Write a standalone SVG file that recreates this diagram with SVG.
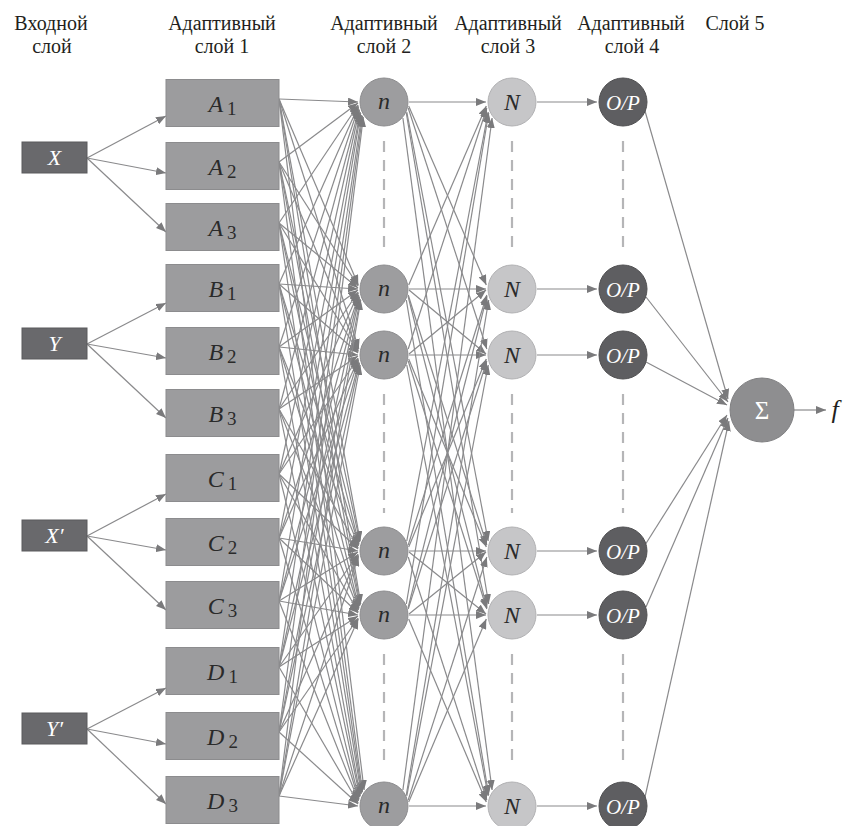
<svg xmlns="http://www.w3.org/2000/svg" width="851" height="826" viewBox="0 0 851 826" font-family="'Liberation Serif', 'DejaVu Serif', serif">
  <defs>
    <marker id="arr" markerUnits="userSpaceOnUse" markerWidth="10" markerHeight="8" viewBox="0 0 10 8" refX="10" refY="4" orient="auto">
      <path d="M0,0 L10,4 L0,8 z" fill="#7a7a7c"/>
    </marker>
    <style>
      text { font-family: 'Liberation Serif', 'DejaVu Serif', serif; }
      .hdr { font-size: 20px; fill: #231f20; text-anchor: middle; }
      .lbl { font-size: 24px; font-style: italic; text-anchor: middle; }
      .sub { font-style: normal; font-size: 19px; }
      .inp rect { fill: #69696c; stroke: #5a5a5c; stroke-width: 1; }
      .inp text { fill: #ffffff; font-size: 22px; }
      .mf rect { fill: #9c9c9e; stroke: #8c8c8e; stroke-width: 1; }
      .mf text { fill: #2a2a2a; }
      .rule circle { fill: #9d9d9f; stroke: #8d8d8f; stroke-width: 1; }
      .rule text { fill: #2a2a2a; }
      .norm circle { fill: #c6c6c8; stroke: #b2b2b4; stroke-width: 1; }
      .norm text { fill: #2a2a2a; }
      .out circle { fill: #5e5e61; stroke: #505052; stroke-width: 1; }
      .out text { fill: #ffffff; font-size: 21px; }
      .sum circle { fill: #8e8e90; stroke: #808082; stroke-width: 1; }
      .sum text { fill: #ffffff; font-style: normal; font-size: 25px; }
      #connectors line { stroke: #8a8a8c; stroke-width: 1.2; marker-end: url(#arr); }
      #dots line { stroke: #b5b5b7; stroke-width: 2.2; stroke-dasharray: 11 8; }
    </style>
  </defs>

  <rect x="0" y="0" width="851" height="826" fill="#ffffff"/>

  <!-- column headers -->
  <g id="headers">
    <text class="hdr" x="51" y="30">Входной</text>
    <text class="hdr" x="52" y="53">слой</text>
    <text class="hdr" x="222" y="30">Адаптивный</text>
    <text class="hdr" x="222" y="53">слой 1</text>
    <text class="hdr" x="384" y="30">Адаптивный</text>
    <text class="hdr" x="384" y="53">слой 2</text>
    <text class="hdr" x="508" y="30">Адаптивный</text>
    <text class="hdr" x="508" y="53">слой 3</text>
    <text class="hdr" x="631" y="30">Адаптивный</text>
    <text class="hdr" x="632" y="53">слой 4</text>
    <text class="hdr" x="735" y="30">Слой 5</text>
  </g>

  <!-- omitted-node markers (dashed) -->
  <g id="dots">
    <line x1="384" y1="141" x2="384" y2="252"/>
    <line x1="512" y1="141" x2="512" y2="252"/>
    <line x1="623" y1="141" x2="623" y2="252"/>
    <line x1="384" y1="394" x2="384" y2="513"/>
    <line x1="512" y1="394" x2="512" y2="513"/>
    <line x1="623" y1="394" x2="623" y2="513"/>
    <line x1="384" y1="654" x2="384" y2="767"/>
    <line x1="512" y1="654" x2="512" y2="767"/>
    <line x1="623" y1="654" x2="623" y2="767"/>
  </g>

  <g id="connectors">
    <!-- inputs to membership boxes -->
    <line x1="87" y1="158" x2="166" y2="116"/>
    <line x1="87" y1="158" x2="166" y2="173"/>
    <line x1="87" y1="158" x2="166" y2="232"/>
    <line x1="87" y1="344" x2="166" y2="303"/>
    <line x1="87" y1="344" x2="166" y2="358"/>
    <line x1="87" y1="344" x2="166" y2="418"/>
    <line x1="87" y1="536" x2="166" y2="494"/>
    <line x1="87" y1="536" x2="166" y2="550"/>
    <line x1="87" y1="536" x2="166" y2="610"/>
    <line x1="87" y1="729" x2="166" y2="688"/>
    <line x1="87" y1="729" x2="166" y2="744"/>
    <line x1="87" y1="729" x2="166" y2="804"/>

    <!-- layer 1 to layer 2 -->
    <line x1="279" y1="99" x2="358" y2="102"/>
    <line x1="279" y1="99" x2="358.3" y2="285"/>
    <line x1="279" y1="99" x2="358.8" y2="349"/>
    <line x1="279" y1="99" x2="360.2" y2="541"/>
    <line x1="279" y1="99" x2="360.7" y2="604"/>
    <line x1="279" y1="99" x2="364.1" y2="790"/>

    <line x1="279" y1="162" x2="358" y2="103"/>
    <line x1="279" y1="162" x2="358.2" y2="286"/>
    <line x1="279" y1="162" x2="358.3" y2="351"/>
    <line x1="279" y1="162" x2="359.8" y2="542"/>
    <line x1="279" y1="162" x2="360.2" y2="605"/>
    <line x1="279" y1="162" x2="362.5" y2="792"/>

    <line x1="279" y1="223" x2="358.2" y2="105"/>
    <line x1="279" y1="223" x2="358" y2="288"/>
    <line x1="279" y1="223" x2="358.2" y2="352"/>
    <line x1="279" y1="223" x2="359" y2="544"/>
    <line x1="279" y1="223" x2="359.8" y2="606"/>
    <line x1="279" y1="223" x2="361.8" y2="793"/>

    <line x1="279" y1="284" x2="358.3" y2="106"/>
    <line x1="279" y1="284" x2="358" y2="289"/>
    <line x1="279" y1="284" x2="358.1" y2="353"/>
    <line x1="279" y1="284" x2="358.8" y2="545"/>
    <line x1="279" y1="284" x2="359" y2="608"/>
    <line x1="279" y1="284" x2="361.2" y2="794"/>

    <line x1="279" y1="347" x2="358.5" y2="107"/>
    <line x1="279" y1="347" x2="358" y2="290"/>
    <line x1="279" y1="347" x2="358" y2="355"/>
    <line x1="279" y1="347" x2="358.5" y2="546"/>
    <line x1="279" y1="347" x2="358.8" y2="609"/>
    <line x1="279" y1="347" x2="360.2" y2="796"/>

    <line x1="279" y1="409" x2="359" y2="109"/>
    <line x1="279" y1="409" x2="358.2" y2="292"/>
    <line x1="279" y1="409" x2="358" y2="356"/>
    <line x1="279" y1="409" x2="358.2" y2="548"/>
    <line x1="279" y1="409" x2="358.5" y2="610"/>
    <line x1="279" y1="409" x2="359.8" y2="797"/>

    <line x1="279" y1="474" x2="359.4" y2="110"/>
    <line x1="279" y1="474" x2="358.3" y2="293"/>
    <line x1="279" y1="474" x2="358.2" y2="358"/>
    <line x1="279" y1="474" x2="358.1" y2="549"/>
    <line x1="279" y1="474" x2="358.2" y2="612"/>
    <line x1="279" y1="474" x2="359" y2="799"/>

    <line x1="279" y1="538" x2="360.2" y2="112"/>
    <line x1="279" y1="538" x2="358.8" y2="295"/>
    <line x1="279" y1="538" x2="358.3" y2="359"/>
    <line x1="279" y1="538" x2="358" y2="551"/>
    <line x1="279" y1="538" x2="358.1" y2="613"/>
    <line x1="279" y1="538" x2="358.8" y2="800"/>

    <line x1="279" y1="601" x2="360.7" y2="113"/>
    <line x1="279" y1="601" x2="359" y2="296"/>
    <line x1="279" y1="601" x2="358.5" y2="360"/>
    <line x1="279" y1="601" x2="358" y2="552"/>
    <line x1="279" y1="601" x2="358" y2="615"/>
    <line x1="279" y1="601" x2="358.5" y2="801"/>

    <line x1="279" y1="667" x2="361.8" y2="115"/>
    <line x1="279" y1="667" x2="359.4" y2="297"/>
    <line x1="279" y1="667" x2="359" y2="362"/>
    <line x1="279" y1="667" x2="358.2" y2="554"/>
    <line x1="279" y1="667" x2="358" y2="616"/>
    <line x1="279" y1="667" x2="358.2" y2="803"/>

    <line x1="279" y1="732" x2="362.5" y2="116"/>
    <line x1="279" y1="732" x2="360.2" y2="299"/>
    <line x1="279" y1="732" x2="359.4" y2="363"/>
    <line x1="279" y1="732" x2="358.3" y2="555"/>
    <line x1="279" y1="732" x2="358.2" y2="618"/>
    <line x1="279" y1="732" x2="358.1" y2="804"/>

    <line x1="279" y1="796" x2="363.3" y2="117"/>
    <line x1="279" y1="796" x2="360.7" y2="300"/>
    <line x1="279" y1="796" x2="360.2" y2="365"/>
    <line x1="279" y1="796" x2="358.5" y2="556"/>
    <line x1="279" y1="796" x2="358.3" y2="619"/>
    <line x1="279" y1="796" x2="358" y2="806"/>

    <!-- layer 2 to layer 3 -->
    <line x1="409" y1="102" x2="486" y2="102"/>
    <line x1="408.7" y1="106" x2="486.3" y2="285"/>
    <line x1="408.2" y1="108" x2="486.8" y2="349"/>
    <line x1="406.8" y1="112" x2="488.2" y2="541"/>
    <line x1="406.3" y1="113" x2="488.7" y2="604"/>
    <line x1="402.9" y1="118" x2="492.1" y2="790"/>

    <line x1="408.7" y1="285" x2="486.3" y2="106"/>
    <line x1="409" y1="289" x2="486" y2="289"/>
    <line x1="409" y1="290" x2="486" y2="354"/>
    <line x1="408.2" y1="295" x2="486.8" y2="545"/>
    <line x1="408" y1="296" x2="487" y2="608"/>
    <line x1="406.3" y1="300" x2="488.7" y2="795"/>

    <line x1="408.2" y1="349" x2="486.8" y2="108"/>
    <line x1="409" y1="354" x2="486" y2="290"/>
    <line x1="409" y1="355" x2="486" y2="355"/>
    <line x1="408.7" y1="359" x2="486.3" y2="547"/>
    <line x1="408.2" y1="361" x2="486.8" y2="609"/>
    <line x1="406.8" y1="365" x2="488.2" y2="796"/>

    <line x1="406.8" y1="541" x2="488.2" y2="112"/>
    <line x1="408.2" y1="545" x2="486.8" y2="295"/>
    <line x1="408.7" y1="547" x2="486.3" y2="359"/>
    <line x1="409" y1="551" x2="486" y2="551"/>
    <line x1="409" y1="552" x2="486" y2="614"/>
    <line x1="408.2" y1="557" x2="486.8" y2="800"/>

    <line x1="406.3" y1="604" x2="488.7" y2="113"/>
    <line x1="408" y1="608" x2="487" y2="296"/>
    <line x1="408.2" y1="609" x2="486.8" y2="361"/>
    <line x1="409" y1="614" x2="486" y2="552"/>
    <line x1="409" y1="615" x2="486" y2="615"/>
    <line x1="408.7" y1="619" x2="486.3" y2="802"/>

    <line x1="402.9" y1="790" x2="492.1" y2="118"/>
    <line x1="406.3" y1="795" x2="488.7" y2="300"/>
    <line x1="406.8" y1="796" x2="488.2" y2="365"/>
    <line x1="408.2" y1="800" x2="486.8" y2="557"/>
    <line x1="408.7" y1="802" x2="486.3" y2="619"/>
    <line x1="409" y1="806" x2="486" y2="806"/>

    <!-- layer 3 to layer 4 -->
    <line x1="537" y1="102" x2="597" y2="102"/>
    <line x1="537" y1="289" x2="597" y2="289"/>
    <line x1="537" y1="355" x2="597" y2="355"/>
    <line x1="537" y1="551" x2="597" y2="551"/>
    <line x1="537" y1="615" x2="597" y2="615"/>
    <line x1="537" y1="806" x2="597" y2="806"/>

    <!-- layer 4 to summation -->
    <line x1="645" y1="111" x2="728" y2="399"/>
    <line x1="646" y1="297" x2="728" y2="402"/>
    <line x1="646" y1="362" x2="727" y2="405"/>
    <line x1="645" y1="545" x2="727" y2="415"/>
    <line x1="646" y1="607" x2="728" y2="418"/>
    <line x1="645" y1="797" x2="729" y2="421"/>

    <!-- output -->
    <line x1="794" y1="410" x2="826" y2="410"/>
  </g>

  <!-- input layer -->
  <g id="in-x" class="inp lbl"><rect x="22" y="142" width="65" height="31"/><text x="54.5" y="165">X</text></g>
  <g id="in-y" class="inp lbl"><rect x="22" y="328" width="65" height="31"/><text x="54.5" y="351">Y</text></g>
  <g id="in-x2" class="inp lbl"><rect x="22" y="520" width="65" height="31"/><text x="54.5" y="543">X′</text></g>
  <g id="in-y2" class="inp lbl"><rect x="22" y="713" width="65" height="31"/><text x="54.5" y="736">Y′</text></g>

  <!-- adaptive layer 1 -->
  <g id="a1" class="mf lbl"><rect x="166" y="79.5" width="113" height="47"/><text x="222.5" y="112">A<tspan class="sub" dx="4" dy="3">1</tspan></text></g>
  <g id="a2" class="mf lbl"><rect x="166" y="142.5" width="113" height="47"/><text x="222.5" y="175">A<tspan class="sub" dx="4" dy="3">2</tspan></text></g>
  <g id="a3" class="mf lbl"><rect x="166" y="203.5" width="113" height="47"/><text x="222.5" y="236">A<tspan class="sub" dx="4" dy="3">3</tspan></text></g>
  <g id="b1" class="mf lbl"><rect x="166" y="264.5" width="113" height="47"/><text x="222.5" y="297">B<tspan class="sub" dx="4" dy="3">1</tspan></text></g>
  <g id="b2" class="mf lbl"><rect x="166" y="327.5" width="113" height="47"/><text x="222.5" y="360">B<tspan class="sub" dx="4" dy="3">2</tspan></text></g>
  <g id="b3" class="mf lbl"><rect x="166" y="389.5" width="113" height="47"/><text x="222.5" y="422">B<tspan class="sub" dx="4" dy="3">3</tspan></text></g>
  <g id="c1" class="mf lbl"><rect x="166" y="454.5" width="113" height="47"/><text x="222.5" y="487">C<tspan class="sub" dx="4" dy="3">1</tspan></text></g>
  <g id="c2" class="mf lbl"><rect x="166" y="518.5" width="113" height="47"/><text x="222.5" y="551">C<tspan class="sub" dx="4" dy="3">2</tspan></text></g>
  <g id="c3" class="mf lbl"><rect x="166" y="581.5" width="113" height="47"/><text x="222.5" y="614">C<tspan class="sub" dx="4" dy="3">3</tspan></text></g>
  <g id="d1" class="mf lbl"><rect x="166" y="647.5" width="113" height="47"/><text x="222.5" y="680">D<tspan class="sub" dx="4" dy="3">1</tspan></text></g>
  <g id="d2" class="mf lbl"><rect x="166" y="712.5" width="113" height="47"/><text x="222.5" y="745">D<tspan class="sub" dx="4" dy="3">2</tspan></text></g>
  <g id="d3" class="mf lbl"><rect x="166" y="776.5" width="113" height="47"/><text x="222.5" y="809">D<tspan class="sub" dx="4" dy="3">3</tspan></text></g>

  <!-- adaptive layer 2 -->
  <g id="n1" class="rule lbl"><circle cx="384" cy="102" r="24"/><text x="384" y="109">n</text></g>
  <g id="n2" class="rule lbl"><circle cx="384" cy="289" r="24"/><text x="384" y="296">n</text></g>
  <g id="n3" class="rule lbl"><circle cx="384" cy="355" r="24"/><text x="384" y="362">n</text></g>
  <g id="n4" class="rule lbl"><circle cx="384" cy="551" r="24"/><text x="384" y="558">n</text></g>
  <g id="n5" class="rule lbl"><circle cx="384" cy="615" r="24"/><text x="384" y="622">n</text></g>
  <g id="n6" class="rule lbl"><circle cx="384" cy="806" r="24"/><text x="384" y="813">n</text></g>

  <!-- adaptive layer 3 -->
  <g id="N1" class="norm lbl"><circle cx="512" cy="102" r="24"/><text x="512" y="110">N</text></g>
  <g id="N2" class="norm lbl"><circle cx="512" cy="289" r="24"/><text x="512" y="297">N</text></g>
  <g id="N3" class="norm lbl"><circle cx="512" cy="355" r="24"/><text x="512" y="363">N</text></g>
  <g id="N4" class="norm lbl"><circle cx="512" cy="551" r="24"/><text x="512" y="559">N</text></g>
  <g id="N5" class="norm lbl"><circle cx="512" cy="615" r="24"/><text x="512" y="623">N</text></g>
  <g id="N6" class="norm lbl"><circle cx="512" cy="806" r="24"/><text x="512" y="814">N</text></g>

  <!-- adaptive layer 4 -->
  <g id="op1" class="out lbl"><circle cx="623" cy="102" r="24"/><text x="623" y="110">O/P</text></g>
  <g id="op2" class="out lbl"><circle cx="623" cy="289" r="24"/><text x="623" y="297">O/P</text></g>
  <g id="op3" class="out lbl"><circle cx="623" cy="355" r="24"/><text x="623" y="363">O/P</text></g>
  <g id="op4" class="out lbl"><circle cx="623" cy="551" r="24"/><text x="623" y="559">O/P</text></g>
  <g id="op5" class="out lbl"><circle cx="623" cy="615" r="24"/><text x="623" y="623">O/P</text></g>
  <g id="op6" class="out lbl"><circle cx="623" cy="806" r="24"/><text x="623" y="814">O/P</text></g>

  <!-- layer 5 -->
  <g id="sigma" class="sum lbl"><circle cx="762" cy="410" r="32"/><text x="762" y="419">Σ</text></g>
  <g id="f-out" class="lbl"><text x="835" y="418" fill="#231f20" font-size="26">f</text></g>
</svg>
